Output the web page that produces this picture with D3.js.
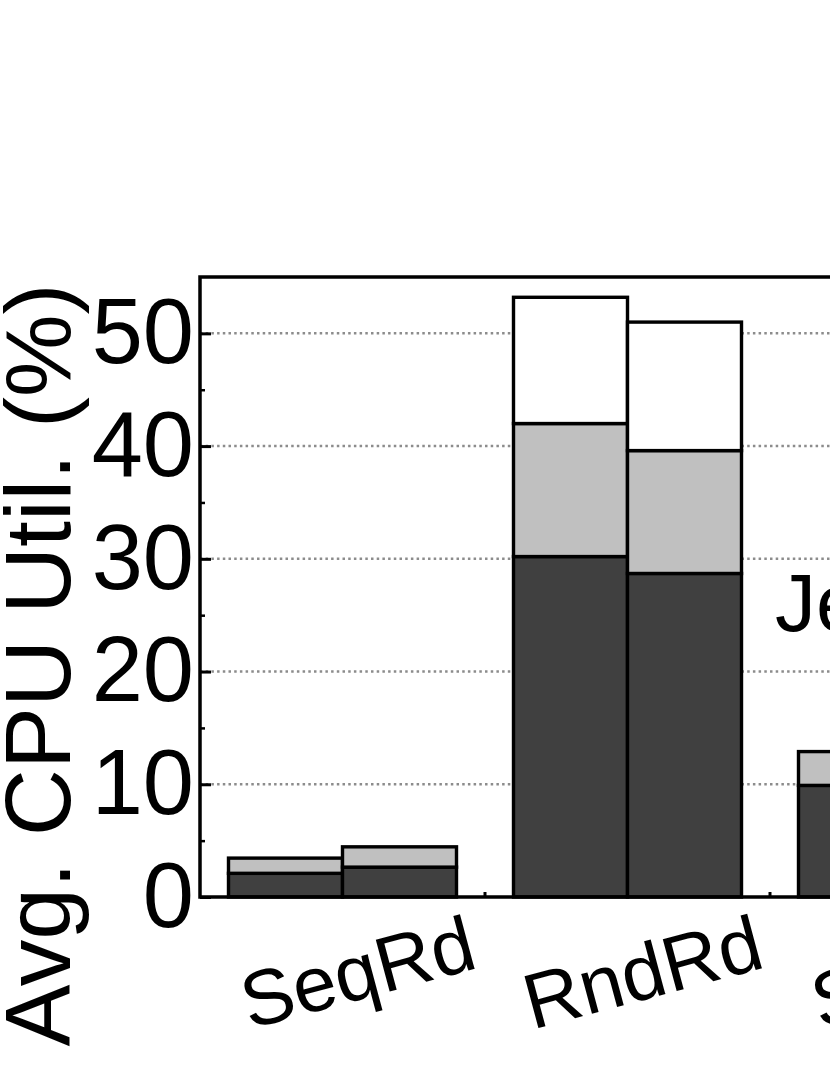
<!DOCTYPE html>
<html>
<head>
<meta charset="utf-8">
<script src="https://cdn.jsdelivr.net/npm/d3@7"></script>
<style>
  body { margin: 0; background: #fff; }
  svg { display: block; font-family: "Liberation Sans", Arial, sans-serif; }
</style>
</head>
<body>
<div id="graph"></div>
<script>
// groups on the x axis (third one runs off the right edge)
const categories = ["SeqRd", "RndRd", "SeqWr"];
// stacked segments, first bar of each group
const darkA  = [2.1, 30.2, 9.9];
const grayA  = [1.35, 11.8, 3.0];
const whiteA = [0, 11.2, 0];
// second bar of each group (third group's is outside the picture)
const darkB  = [2.65, 28.7, null];
const grayB  = [1.8, 10.9, null];
const whiteB = [0, 11.4, null];
const yTicks = [0, 10, 20, 30, 40, 50];
const yMinor = [5, 15, 25, 35, 45];

const W = 830, H = 1075;
const margin = {top: 277, left: 200, bottom: 178};
const plotBottom = H - margin.bottom;   // y of value 0

const svg = d3.select("#graph").append("svg")
  .attr("width", W).attr("height", H);

const x = d3.scaleBand()
  .domain(categories)
  .range([margin.left, margin.left + 285 * categories.length])
  .paddingInner(0.2).paddingOuter(0.1);
const xs = d3.scaleBand().domain(["A", "B"]).range([0, x.bandwidth()]);

const y = d3.scaleLinear().domain([0, 55]).range([plotBottom, margin.top]);

// dotted grid
svg.append("g").selectAll("line").data(yTicks.slice(1)).join("line")
  .attr("x1", margin.left).attr("x2", W)
  .attr("y1", d => y(d)).attr("y2", d => y(d))
  .attr("stroke", "#8c8c8c").attr("stroke-width", 2.5)
  .attr("stroke-dasharray", "2.5,3.2");

// bars
const bars = [];
categories.forEach((c, i) => {
  [["A", darkA, grayA, whiteA], ["B", darkB, grayB, whiteB]].forEach(([k, d, g, w]) => {
    if (d[i] == null) return;
    let base = 0;
    [[d[i], "#404040"], [g[i], "#c0c0c0"], [w[i], "#ffffff"]].forEach(([v, col]) => {
      bars.push({x: x(c) + xs(k), w: xs.bandwidth(), y0: base, y1: base + v, fill: col});
      base += v;
    });
  });
});
svg.append("g").selectAll("rect").data(bars).join("rect")
  .attr("x", d => d.x).attr("width", d => d.w)
  .attr("y", d => y(d.y1)).attr("height", d => y(d.y0) - y(d.y1))
  .attr("fill", d => d.fill)
  .attr("stroke", "#000").attr("stroke-width", 3.4);

// annotation (cut off at the right edge)
svg.append("text")
  .attr("x", 775).attr("y", 631)
  .attr("font-size", 82)
  .text("Je");

// y axis: inward ticks
const yAxis = d3.axisLeft(y).tickValues(yTicks).tickSizeInner(-11).tickSizeOuter(0)
  .tickPadding(6).tickFormat(d3.format("d"));
const gy = svg.append("g").attr("transform", `translate(${margin.left},0)`).call(yAxis);
gy.select(".domain").remove();
gy.selectAll(".tick line").attr("stroke-width", 3);
gy.selectAll(".tick text").attr("font-size", 92).attr("fill", "#000")
  .attr("font-family", "Liberation Sans, Arial, sans-serif");

const gyMinor = svg.append("g").attr("transform", `translate(${margin.left},0)`)
  .call(d3.axisLeft(y).tickValues(yMinor).tickSizeInner(-5).tickSizeOuter(0).tickFormat(""));
gyMinor.select(".domain").remove();
gyMinor.selectAll(".tick line").attr("stroke-width", 2.5);

// x axis: small ticks between groups, rotated labels
const between = categories.slice(1).map(c => x(c) - x.step() * x.paddingInner() / 2);
svg.append("g").selectAll("line").data(between).join("line")
  .attr("x1", d => d).attr("x2", d => d)
  .attr("y1", plotBottom).attr("y2", plotBottom - 5)
  .attr("stroke", "#000").attr("stroke-width", 3);

svg.append("g").selectAll("text").data(categories).join("text")
  .attr("transform", d => `translate(${x(d) + x.bandwidth() / 2 + 15},972) rotate(-15)`)
  .attr("text-anchor", "middle").attr("dy", "0.35em")
  .attr("font-size", 78)
  .text(d => d);

// spines (left, top, bottom)
svg.append("path")
  .attr("d", `M${W},${margin.top}H${margin.left}V${plotBottom}H${W}`)
  .attr("fill", "none").attr("stroke", "#000").attr("stroke-width", 3.5);

// y title
svg.append("text")
  .attr("transform", `translate(70,665) rotate(-90)`)
  .attr("text-anchor", "middle")
  .attr("font-size", 93)
  .text("Avg. CPU Util. (%)");
</script>
</body>
</html>
